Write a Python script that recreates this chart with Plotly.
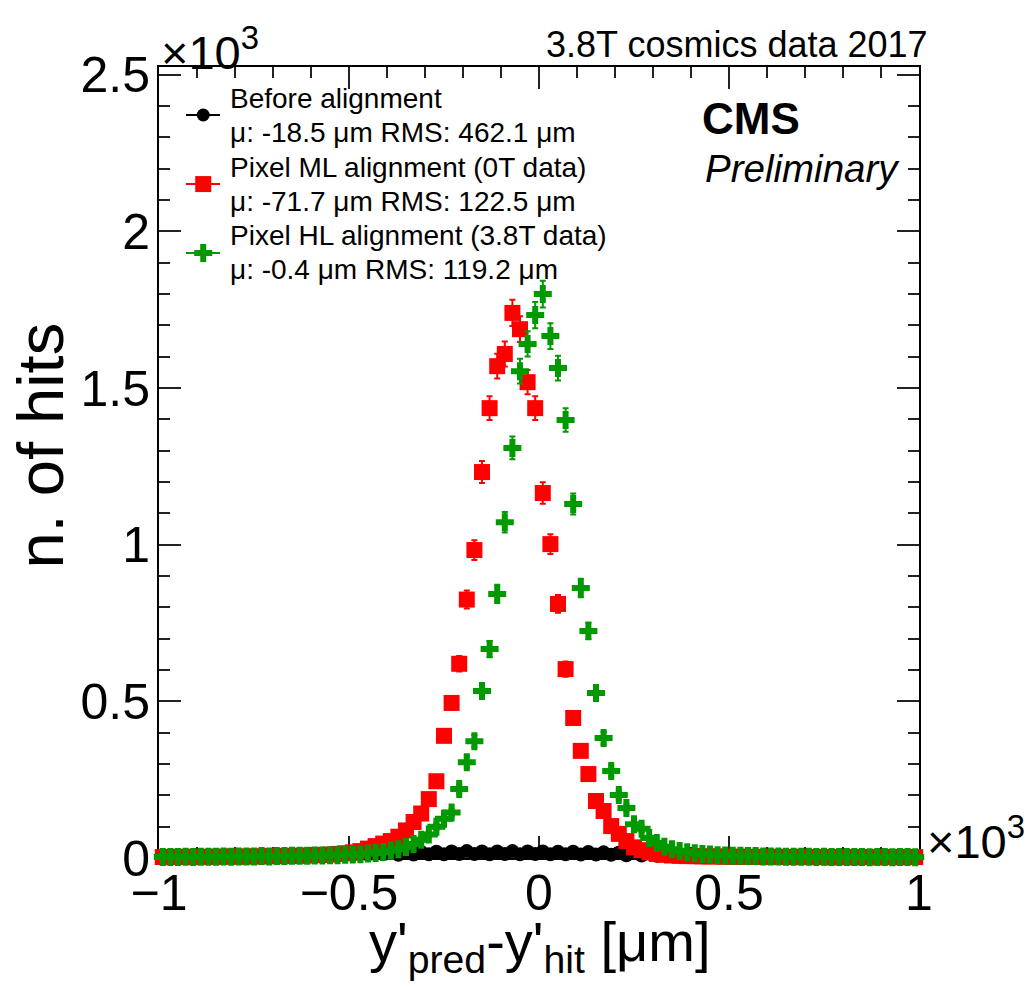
import numpy as np
import plotly.graph_objects as go

# Residual histogram: 100 bins of 20 um between -1000 and 1000 um
bin_width_um = 20
bin_centers_um = np.arange(-990, 1000, bin_width_um)

# Hits per bin, in units of 10^3
before_alignment = [
    0.002, 0.004, 0.003, 0.005, 0.003, 0.004, 0.005, 0.004, 0.006, 0.004,
    0.006, 0.005, 0.007, 0.005, 0.008, 0.006, 0.008, 0.007, 0.009, 0.007,
    0.010, 0.008, 0.011, 0.009, 0.012, 0.010, 0.013, 0.011, 0.014, 0.012,
    0.017, 0.010, 0.018, 0.011, 0.019, 0.012, 0.020, 0.012, 0.021, 0.013,
    0.022, 0.013, 0.021, 0.012, 0.021, 0.013, 0.022, 0.012, 0.021, 0.013,
    0.021, 0.012, 0.020, 0.012, 0.020, 0.011, 0.019, 0.011, 0.018, 0.010,
    0.017, 0.009, 0.016, 0.008, 0.014, 0.007, 0.013, 0.006, 0.012, 0.006,
    0.010, 0.007, 0.009, 0.007, 0.008, 0.006, 0.008, 0.005, 0.007, 0.005,
    0.006, 0.004, 0.006, 0.004, 0.005, 0.004, 0.005, 0.003, 0.004, 0.003,
    0.004, 0.003, 0.004, 0.002, 0.003, 0.002, 0.003, 0.002, 0.003, 0.002,
]

pixel_ml_0t = [
    0.003, 0.003, 0.004, 0.003, 0.004, 0.003, 0.004, 0.004, 0.004, 0.005,
    0.004, 0.005, 0.005, 0.005, 0.006, 0.006, 0.006, 0.007, 0.007, 0.008,
    0.009, 0.010, 0.011, 0.013, 0.015, 0.018, 0.022, 0.030, 0.038, 0.046,
    0.054, 0.068, 0.088, 0.115, 0.142, 0.188, 0.245, 0.390, 0.495, 0.620,
    0.825, 0.983, 1.232, 1.436, 1.570, 1.609, 1.740, 1.688, 1.519, 1.436,
    1.165, 1.002, 0.811, 0.603, 0.447, 0.342, 0.268, 0.182, 0.150, 0.102,
    0.077, 0.054, 0.034, 0.025, 0.018, 0.013, 0.010, 0.008, 0.007, 0.006,
    0.006, 0.005, 0.005, 0.005, 0.004, 0.004, 0.004, 0.004, 0.003, 0.004,
    0.003, 0.004, 0.003, 0.003, 0.004, 0.003, 0.003, 0.003, 0.002, 0.003,
    0.003, 0.002, 0.003, 0.003, 0.002, 0.003, 0.003, 0.002, 0.003, 0.003,
]

pixel_hl_38t = [
    0.003, 0.003, 0.003, 0.004, 0.003, 0.004, 0.004, 0.004, 0.005, 0.004,
    0.005, 0.005, 0.005, 0.006, 0.005, 0.006, 0.006, 0.007, 0.007, 0.007,
    0.008, 0.008, 0.009, 0.009, 0.010, 0.011, 0.012, 0.014, 0.016, 0.019,
    0.023, 0.028, 0.035, 0.045, 0.058, 0.075, 0.100, 0.125, 0.145, 0.220,
    0.306, 0.373, 0.533, 0.667, 0.843, 1.072, 1.309, 1.554, 1.641, 1.733,
    1.800, 1.666, 1.564, 1.398, 1.130, 0.862, 0.725, 0.527, 0.383, 0.278,
    0.201, 0.160, 0.108, 0.093, 0.064, 0.048, 0.036, 0.028, 0.022, 0.018,
    0.015, 0.013, 0.011, 0.009, 0.008, 0.007, 0.007, 0.006, 0.006, 0.005,
    0.005, 0.005, 0.004, 0.004, 0.004, 0.004, 0.003, 0.004, 0.003, 0.003,
    0.003, 0.003, 0.003, 0.002, 0.003, 0.003, 0.002, 0.003, 0.003, 0.002,
]

legend_labels = [
    ("Before alignment", "μ: -18.5 μm RMS: 462.1 μm"),
    ("Pixel ML alignment (0T data)", "μ: -71.7 μm RMS: 122.5 μm"),
    ("Pixel HL alignment (3.8T data)", "μ: -0.4 μm RMS: 119.2 μm"),
]

FONT = "Liberation Sans, Arial, Helvetica, sans-serif"
BLACK, RED, GREEN = "#000000", "#ff0000", "#009900"

x_k = bin_centers_um / 1000.0  # axis is in units of 10^3 um


def poisson_err(vals):
    v = np.asarray(vals) * 1000.0
    return np.sqrt(v) / 1000.0


# drawing order: before, ML, HL (later ones on top)
styles = [
    (before_alignment, BLACK, "circle", 14),
    (pixel_ml_0t, RED, "square", 16),
    (pixel_hl_38t, GREEN, "cross", 15),
]

fig = go.Figure()
for vals, color, symbol, size in styles:
    fig.add_trace(go.Scatter(
        x=x_k, y=vals, mode="markers", cliponaxis=False,
        marker=dict(symbol=symbol, size=size, color=color, line=dict(width=0)),
        error_y=dict(type="data", array=poisson_err(vals), color=color,
                     thickness=2, width=3),
        showlegend=False, hoverinfo="skip",
    ))

# Hand-drawn legend on an overlaid unit-square axis pair
legend_entries = [
    (0.9393, BLACK, "circle", 13),
    (0.852, RED, "square", 16),
    (0.7649, GREEN, "cross", 15),
]
for y_leg, color, symbol, size in legend_entries:
    fig.add_trace(go.Scatter(
        x=[0.0355, 0.0803], y=[y_leg, y_leg], xaxis="x2", yaxis="y2",
        mode="lines", line=dict(color=color, width=2),
        showlegend=False, hoverinfo="skip",
    ))
    fig.add_trace(go.Scatter(
        x=[0.0582], y=[y_leg], xaxis="x2", yaxis="y2", mode="markers",
        marker=dict(symbol=symbol, size=size, color=color, opacity=1,
                    line=dict(width=0)),
        showlegend=False, hoverinfo="skip",
    ))

annotations = []
leg_y = [(0.960, 0.917), (0.873, 0.830), (0.787, 0.744)]
for (l1, l2), (y1, y2) in zip(legend_labels, leg_y):
    for txt, yy in ((l1, y1), (l2, y2)):
        annotations.append(dict(
            text=txt, x=0.0908, y=yy, xref="paper", yref="paper",
            xanchor="left", yanchor="middle", showarrow=False,
            font=dict(family=FONT, size=28, color="black"),
        ))

annotations += [
    dict(text="3.8T cosmics data 2017", x=1.014, y=1.029, xref="paper",
         yref="paper", xanchor="right", yanchor="middle", showarrow=False,
         font=dict(family=FONT, size=36, color="black")),
    dict(text="<b>CMS</b>", x=0.7118, y=0.9355, xref="paper", yref="paper",
         xanchor="left", yanchor="middle", showarrow=False,
         font=dict(family=FONT, size=44, color="black")),
    dict(text="<i>Preliminary</i>", x=0.716, y=0.872, xref="paper",
         yref="paper", xanchor="left", yanchor="middle", showarrow=False,
         font=dict(family=FONT, size=38.5, color="black")),
    dict(text="×10<sup>3</sup>", x=0.0, y=0.982, xref="paper", yref="paper",
         xanchor="left", yanchor="bottom", showarrow=False,
         font=dict(family=FONT, size=47, color="black")),
    dict(text="×10<sup>3</sup>", x=1.008, y=-0.015, xref="paper",
         yref="paper", xanchor="left", yanchor="bottom", showarrow=False,
         font=dict(family=FONT, size=47, color="black")),
    dict(text="n. of hits", x=-0.156, y=0.522, xref="paper", yref="paper",
         xanchor="center", yanchor="middle", textangle=-90, showarrow=False,
         font=dict(family=FONT, size=65, color="black")),
    dict(text="y'<sub>pred</sub>-y'<sub>hit</sub> [μm]", x=0.5, y=-0.111,
         xref="paper", yref="paper", xanchor="center", yanchor="middle",
         showarrow=False, font=dict(family=FONT, size=56, color="black")),
]

axis_common = dict(
    showline=True, linecolor="black", linewidth=2, mirror="ticks",
    ticks="inside", ticklen=22, tickwidth=2, tickcolor="#222222",
    showgrid=False, zeroline=False, layer="below traces",
    tickfont=dict(family=FONT, size=50, color="black"),
    minor=dict(ticks="inside", ticklen=11, tickwidth=2, tickcolor="#222222",
               showgrid=False),
)

fig.update_layout(
    width=1028, height=988,
    margin=dict(l=159, r=109, t=67, b=130),
    paper_bgcolor="white", plot_bgcolor="white",
    xaxis=dict(range=[-1, 1], tickmode="linear", tick0=-1, dtick=0.5,
               minor_dtick=0.1, ticklabelstandoff=-10, **axis_common),
    yaxis=dict(range=[0, 2.525], tickmode="linear", tick0=0, dtick=0.5,
               minor_dtick=0.1, ticklabelstandoff=-3, **axis_common),
    xaxis2=dict(overlaying="x", range=[0, 1], visible=False, anchor="y2"),
    yaxis2=dict(overlaying="y", range=[0, 1], visible=False, anchor="x2"),
    annotations=annotations,
    showlegend=False,
)

fig.write_html("out.html")
